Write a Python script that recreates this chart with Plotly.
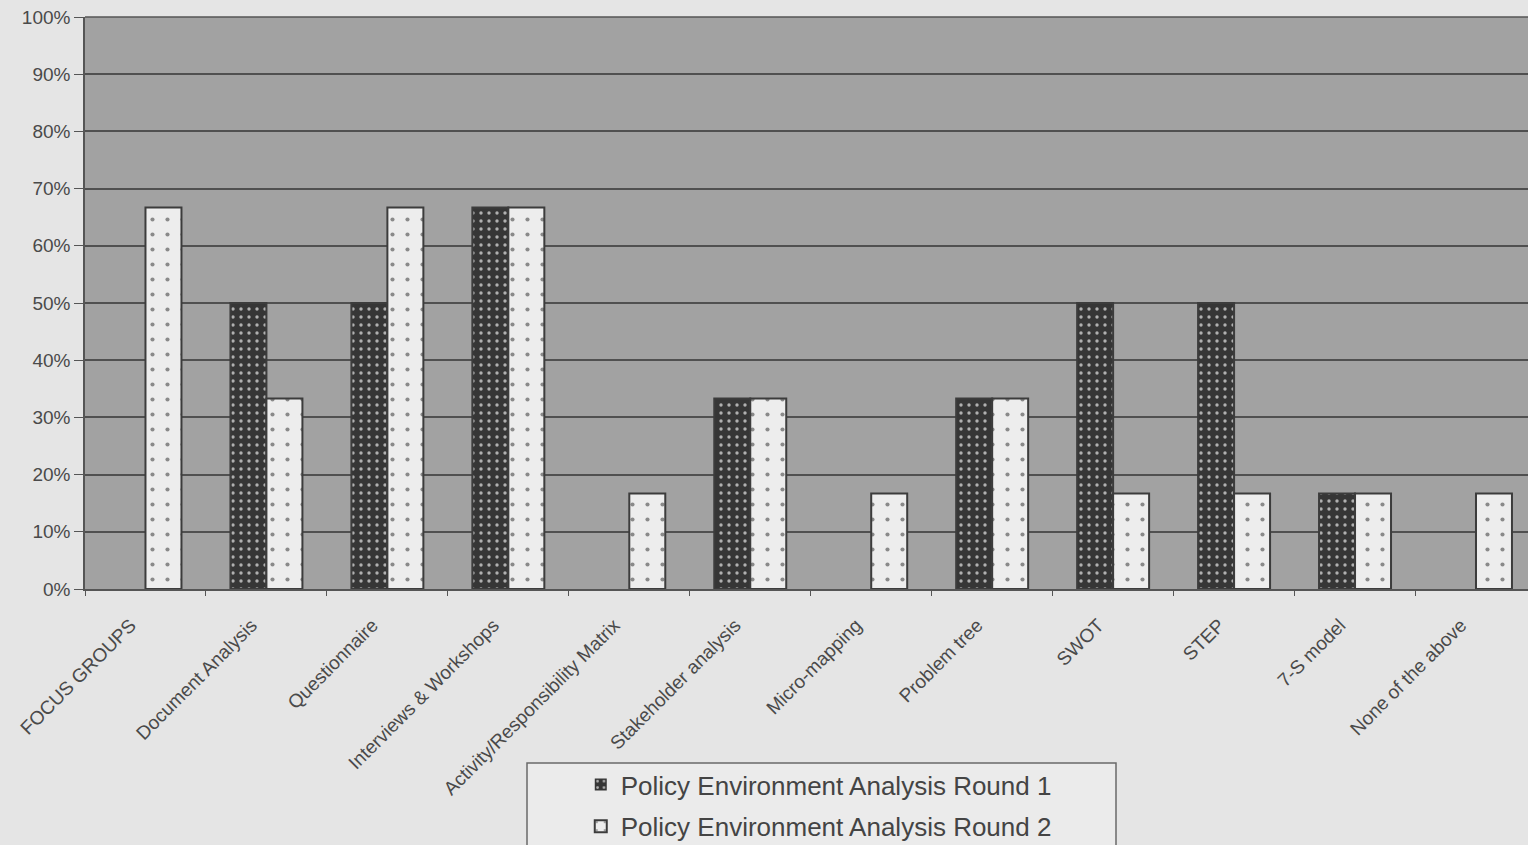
import plotly.graph_objects as go

categories = [
    "FOCUS GROUPS", "Document Analysis", "Questionnaire", "Interviews & Workshops",
    "Activity/Responsibility Matrix", "Stakeholder analysis", "Micro-mapping",
    "Problem tree", "SWOT", "STEP", "7-S model", "None of the above",
]
round1 = [0, 50, 50, 66.7, 0, 33.3, 0, 33.3, 50, 50, 16.7, 0]
round2 = [66.7, 33.3, 66.7, 66.7, 16.7, 33.3, 16.7, 33.3, 16.7, 16.7, 16.7, 16.7]
y_ticks = list(range(0, 101, 10))
y_labels = [f"{v}%" for v in y_ticks]

FONT = "Arial, Liberation Sans, sans-serif"
TEXT = "#4a4a4a"
EDGE = "#3c3c3c"
PAD = "\u00a0" * 4  # nudges the slanted labels down-left of their tick


def outline_widths(values):
    # empty bars get no outline so nothing is drawn on the baseline
    return [2 if v > 0 else 0 for v in values]


fig = go.Figure()
fig.add_trace(go.Bar(
    x=categories, y=round1, name="Policy Environment Analysis Round 1",
    legendgroup="r1",
    marker=dict(
        color="#363636",
        line=dict(color=EDGE, width=outline_widths(round1)),
        pattern=dict(shape=".", size=8, solidity=0.14,
                     fgcolor="#b0b0b0", bgcolor="#363636", fillmode="replace"),
    ),
))
fig.add_trace(go.Bar(
    x=categories, y=round2, name="Policy Environment Analysis Round 2",
    legendgroup="r2",
    marker=dict(
        color="#ededed",
        line=dict(color=EDGE, width=outline_widths(round2)),
        pattern=dict(shape=".", size=15, solidity=0.06,
                     fgcolor="#8a8a8a", bgcolor="#ededed", fillmode="replace"),
    ),
))

fig.update_layout(
    width=1528, height=845,
    margin=dict(l=85, r=0, t=17, b=256, autoexpand=False),
    paper_bgcolor="#e5e5e5",
    plot_bgcolor="#a2a2a2",
    barmode="group",
    bargap=0.405,
    bargroupgap=0,
    font=dict(family=FONT, color=TEXT),
    showlegend=True,
    legend=dict(
        x=0.5085, xanchor="center",
        yref="container", y=1 - 761 / 845, yanchor="top",
        bgcolor="rgba(0,0,0,0)", borderwidth=0,
        font=dict(size=26, color="#444444", family=FONT),
        traceorder="grouped", tracegroupgap=5,
        itemwidth=30,
    ),
    shapes=[dict(
        type="rect", xref="paper", yref="paper",
        x0=(527 - 85) / 1443, x1=(1116 - 85) / 1443,
        y0=(589 - 860) / 572, y1=(589 - 763) / 572,
        line=dict(color="#6a6a6a", width=1.5),
        fillcolor="#ebebeb", layer="below",
    )],
)

fig.update_xaxes(
    type="category", range=[-0.5, 11.43],
    tickvals=categories, ticktext=[c + PAD for c in categories],
    tickangle=-45, tickfont=dict(size=19, color=TEXT),
    ticks="outside", tickson="boundaries", ticklen=5, tickcolor="#555555",
    ticklabelstandoff=1,
    showline=True, linecolor="#555555", linewidth=1.5,
    showgrid=False,
)
fig.update_yaxes(
    range=[0, 100], tickvals=y_ticks, ticktext=y_labels,
    tickfont=dict(size=19, color=TEXT),
    ticks="outside", ticklen=9, tickcolor="#555555",
    showline=True, linecolor="#555555", linewidth=1.5,
    showgrid=True, gridcolor="#505050", gridwidth=1.5,
    zeroline=False, mirror=False,
)
fig.add_shape(type="line", xref="paper", yref="paper", x0=0, x1=1, y0=1, y1=1,
              line=dict(color="#555555", width=1.5))

fig.write_html("out.html")
